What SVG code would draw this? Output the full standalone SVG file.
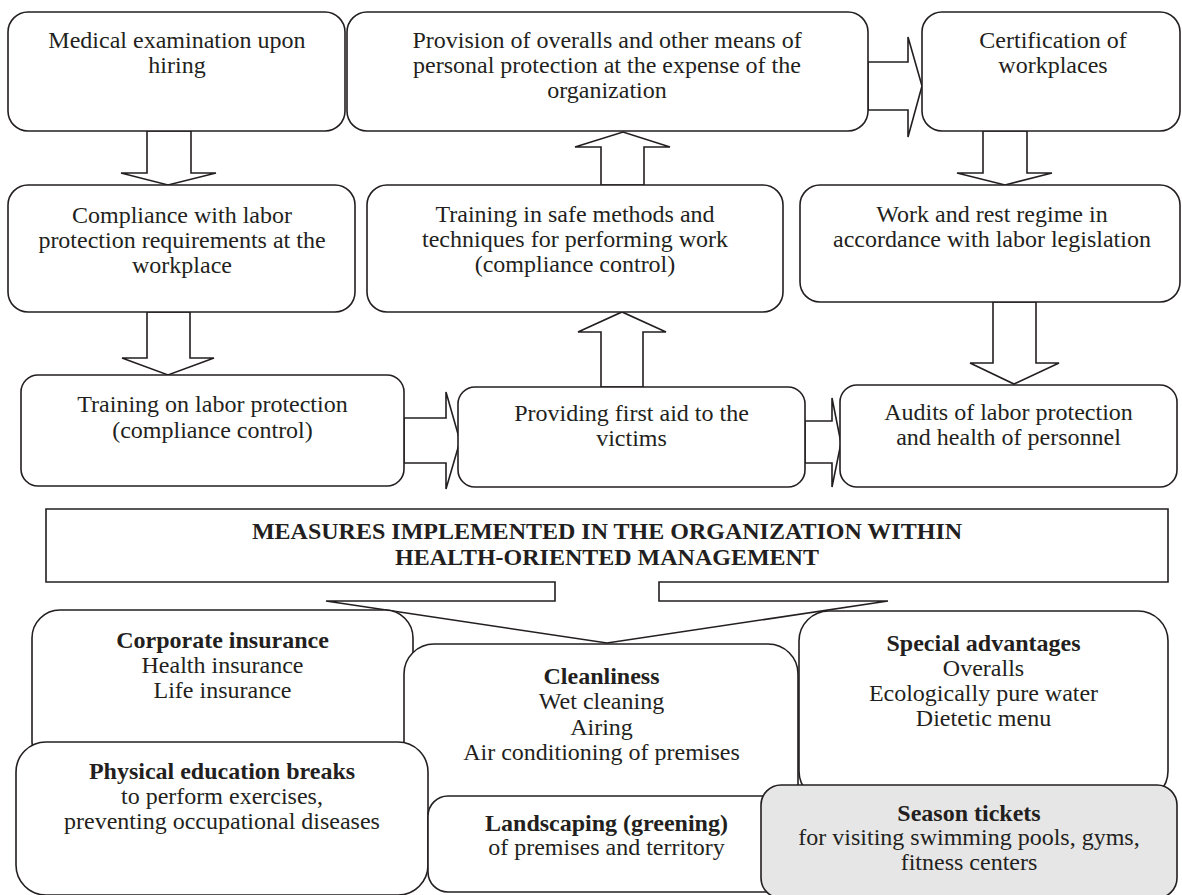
<svg xmlns="http://www.w3.org/2000/svg" width="1182" height="895" viewBox="0 0 1182 895">
<style>
  .box{fill:#ffffff;stroke:#231f20;stroke-width:1.6}
  .grey{fill:#e6e6e6;stroke:#231f20;stroke-width:1.6}
  .arr{fill:#ffffff;stroke:#231f20;stroke-width:1.6;stroke-linejoin:miter}
  text{font-family:"Liberation Serif","Times New Roman",serif;font-size:24px;fill:#231f20;text-anchor:middle}
  .b{font-weight:bold}
</style>
<rect width="1182" height="895" fill="#ffffff"/>

<g id="connectors">
  <polygon class="arr" points="147,131 191,131 191,173 216,173 168,185 121,173 147,173"/>
  <polygon class="arr" points="601,185 644,185 644,147 670,147 623,132 575,147 601,147"/>
  <polygon class="arr" points="868,62 908,62 908,37 922,86 908,137 908,110 868,110"/>
  <polygon class="arr" points="983,131 1027,131 1027,173 1052,173 1005,185 957,173 983,173"/>
  <polygon class="arr" points="147,312 190,312 190,358 214,358 168,375 122,358 147,358"/>
  <polygon class="arr" points="404,418 446,418 446,392 460,441 446,489 446,463 404,463"/>
  <polygon class="arr" points="601,387 643,387 643,332 666,332 622,312 578,332 601,332"/>
  <polygon class="arr" points="805,421 832,421 832,398 841,443 832,487 832,463 805,463"/>
  <polygon class="arr" points="993,302 1036,302 1036,363 1059,363 1014,384 970,363 993,363"/>
</g>

<g id="n-medical">
  <rect class="box" x="8" y="12" width="337" height="119" rx="20"/>
  <text x="177" y="48">Medical examination upon</text>
  <text x="177" y="73">hiring</text>
</g>
<g id="n-provision">
  <rect class="box" x="347" y="12" width="521" height="119" rx="20"/>
  <text x="607" y="48">Provision of overalls and other means of</text>
  <text x="607" y="73">personal protection at the expense of the</text>
  <text x="607" y="98">organization</text>
</g>
<g id="n-certification">
  <rect class="box" x="922" y="12" width="258" height="119" rx="20"/>
  <text x="1053" y="48">Certification of</text>
  <text x="1053" y="73">workplaces</text>
</g>

<g id="n-compliance">
  <rect class="box" x="8" y="185" width="347" height="127" rx="20"/>
  <text x="182" y="223">Compliance with labor</text>
  <text x="182" y="248">protection requirements at the</text>
  <text x="182" y="273">workplace</text>
</g>
<g id="n-training-safe">
  <rect class="box" x="367" y="185" width="416" height="127" rx="20"/>
  <text x="575" y="222">Training in safe methods and</text>
  <text x="575" y="247">techniques for performing work</text>
  <text x="575" y="272">(compliance control)</text>
</g>
<g id="n-work-rest">
  <rect class="box" x="800" y="185" width="380" height="117" rx="20"/>
  <text x="992" y="222">Work and rest regime in</text>
  <text x="992" y="247">accordance with labor legislation</text>
</g>

<g id="n-training-labor">
  <rect class="box" x="21" y="375" width="383" height="111" rx="17"/>
  <text x="212.5" y="412">Training on labor protection</text>
  <text x="212.5" y="438">(compliance control)</text>
</g>
<g id="n-first-aid">
  <rect class="box" x="458" y="387" width="347" height="100" rx="17"/>
  <text x="631.5" y="421">Providing first aid to the</text>
  <text x="631.5" y="446">victims</text>
</g>
<g id="n-audits">
  <rect class="box" x="840" y="385" width="337" height="102" rx="17"/>
  <text x="1008.5" y="420">Audits of labor protection</text>
  <text x="1008.5" y="445">and health of personnel</text>
</g>

<g id="n-measures">
  <path class="box" d="M46,509 H1168 V582 H659 V601 H888 L607,643 L326,601 H555 V582 H46 Z"/>
  <text class="b" x="607" y="539">MEASURES IMPLEMENTED IN THE ORGANIZATION WITHIN</text>
  <text class="b" x="607" y="565">HEALTH-ORIENTED MANAGEMENT</text>
</g>

<g id="n-corporate">
  <rect class="box" x="32" y="610" width="381" height="160" rx="28"/>
  <text class="b" x="222.5" y="648">Corporate insurance</text>
  <text x="222.5" y="673">Health insurance</text>
  <text x="222.5" y="698">Life insurance</text>
</g>
<g id="n-cleanliness">
  <rect class="box" x="404" y="644" width="394" height="170" rx="30"/>
  <text class="b" x="601.5" y="684">Cleanliness</text>
  <text x="601.5" y="709">Wet cleaning</text>
  <text x="601.5" y="735">Airing</text>
  <text x="601.5" y="760">Air conditioning of premises</text>
</g>
<g id="n-special">
  <rect class="box" x="799" y="611" width="369" height="190" rx="30"/>
  <text class="b" x="983.5" y="651">Special advantages</text>
  <text x="983.5" y="676">Overalls</text>
  <text x="983.5" y="701">Ecologically pure water</text>
  <text x="983.5" y="726">Dietetic menu</text>
</g>
<g id="n-physical">
  <rect class="box" x="16" y="742" width="412" height="153" rx="30"/>
  <text class="b" x="222" y="779">Physical education breaks</text>
  <text x="222" y="804">to perform exercises,</text>
  <text x="222" y="829">preventing occupational diseases</text>
</g>
<g id="n-landscaping">
  <rect class="box" x="428" y="796" width="358" height="96" rx="20"/>
  <text class="b" x="606.5" y="831">Landscaping (greening)</text>
  <text x="606.5" y="855">of premises and territory</text>
</g>
<g id="n-season">
  <rect class="grey" x="761" y="785" width="416" height="113" rx="20"/>
  <text class="b" x="969" y="821">Season tickets</text>
  <text x="969" y="845">for visiting swimming pools, gyms,</text>
  <text x="969" y="870">fitness centers</text>
</g>
</svg>
